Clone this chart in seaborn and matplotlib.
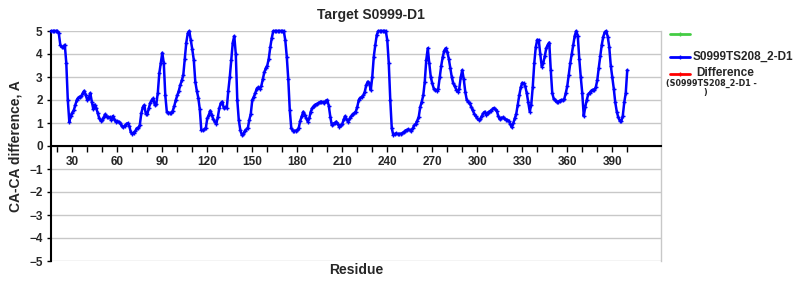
import matplotlib
matplotlib.use('Agg')
import matplotlib.pyplot as plt
import seaborn as sns
import pandas as pd
from matplotlib.lines import Line2D
from matplotlib.ticker import FixedLocator

title = "Target S0999-D1"
model_name = "S0999TS208_2-D1"
y_label = "CA-CA difference, A"
x_label = "Residue"
x_tick_labels = list(range(30, 391, 30))
x_minor_ticks = list(range(20, 401, 10))
y_ticks = list(range(-5, 6))

residues = list(range(16, 401))
values = [
    5.0, 5.0, 5.0, 5.0, 5.0, 4.9, 4.4, 4.3, 4.3, 4.4,            # 16-25
    3.6, 2.0, 1.06, 1.3, 1.45, 1.56, 1.78, 2.0, 2.1, 2.15,       # 26-35
    2.17, 2.3, 2.4, 2.2, 2.0, 2.1, 2.3, 1.93, 1.6, 1.8,          # 36-45
    1.64, 1.42, 1.2, 1.1, 1.13, 1.25, 1.38, 1.28, 1.26, 1.25,    # 46-55
    1.13, 1.3, 1.16, 1.06, 1.08, 1.05, 0.99, 0.87, 0.81, 0.88,   # 56-65
    0.95, 0.99, 0.87, 0.6, 0.52, 0.58, 0.65, 0.77, 0.77, 0.91,   # 66-75
    1.42, 1.68, 1.78, 1.4, 1.38, 1.64, 1.88, 2.0, 2.07, 1.78,    # 76-85
    1.83, 2.3, 3.16, 3.6, 4.05, 3.6, 2.2, 1.5, 1.45, 1.44,       # 86-95
    1.42, 1.54, 1.74, 2.0, 2.2, 2.4, 2.65, 2.85, 3.09, 3.8,      # 96-105
    4.5, 4.9, 5.0, 4.6, 4.2, 3.74, 2.8, 2.4, 2.1, 1.6,           # 106-115
    0.7, 0.68, 0.72, 0.77, 1.2, 1.35, 1.54, 1.35, 1.16, 1.06,    # 116-125
    0.96, 1.25, 1.64, 1.86, 1.93, 1.64, 1.68, 1.65, 2.4, 3.0,    # 126-135
    3.74, 4.5, 4.78, 4.0, 2.0, 1.13, 0.7, 0.48, 0.52, 0.65,      # 136-145
    0.72, 0.77, 1.13, 1.4, 2.0, 2.14, 2.3, 2.5, 2.55, 2.5,       # 146-155
    2.6, 2.9, 3.2, 3.38, 3.5, 3.8, 4.3, 4.7, 5.0, 5.0,           # 156-165
    5.0, 5.0, 5.0, 5.0, 5.0, 5.0, 4.6, 3.88, 2.9, 1.56,          # 166-175
    0.77, 0.67, 0.65, 0.67, 0.7, 0.8, 1.1, 1.3, 1.49, 1.35,      # 176-185
    1.2, 1.06, 1.2, 1.5, 1.65, 1.74, 1.8, 1.83, 1.86, 1.9,       # 186-195
    1.93, 1.9, 1.88, 1.97, 2.0, 1.75, 1.28, 0.91, 0.97, 1.0,     # 196-205
    1.06, 0.95, 0.84, 0.9, 0.96, 1.16, 1.3, 1.15, 1.06, 1.2,     # 206-215
    1.3, 1.39, 1.42, 1.5, 1.7, 2.0, 2.1, 2.12, 2.2, 2.36,        # 216-225
    2.65, 2.8, 2.72, 2.43, 3.0, 3.88, 4.39, 4.83, 5.0, 5.0,      # 226-235
    5.0, 5.0, 5.0, 5.0, 4.6, 3.6, 2.0, 0.77, 0.48, 0.53,         # 236-245
    0.55, 0.52, 0.52, 0.54, 0.55, 0.6, 0.67, 0.7, 0.72, 0.7,     # 246-255
    0.67, 0.77, 0.9, 0.96, 1.1, 1.28, 1.7, 1.93, 2.2, 2.8,       # 256-265
    3.74, 4.25, 3.6, 3.0, 2.72, 2.5, 2.45, 2.4, 2.5, 3.0,        # 266-275
    3.5, 3.88, 4.15, 4.25, 4.1, 3.8, 3.4, 3.0, 2.72, 2.6,        # 276-285
    2.45, 2.36, 2.5, 3.0, 3.3, 2.9, 2.36, 2.0, 1.93, 1.85,       # 286-295
    1.7, 1.56, 1.4, 1.3, 1.2, 1.13, 1.18, 1.3, 1.42, 1.49,       # 296-305
    1.35, 1.45, 1.5, 1.54, 1.59, 1.65, 1.6, 1.54, 1.3, 1.16,     # 306-315
    1.22, 1.24, 1.2, 1.15, 1.13, 1.1, 0.95, 0.81, 0.99, 1.2,     # 316-325
    1.4, 1.8, 2.2, 2.55, 2.75, 2.72, 2.6, 2.3, 1.9, 1.49,        # 326-335
    1.8, 2.58, 3.6, 4.3, 4.62, 4.6, 4.0, 3.45, 3.6, 3.9,         # 336-345
    4.25, 4.4, 4.5, 3.3, 2.3, 2.05, 2.0, 1.9, 1.93, 1.97,        # 346-355
    2.0, 2.0, 2.04, 2.3, 2.6, 3.1, 3.6, 4.0, 4.4, 4.8,           # 356-365
    5.0, 4.8, 3.8, 3.0, 2.3, 1.3, 1.7, 2.0, 2.25, 2.32,          # 366-375
    2.4, 2.45, 2.43, 2.55, 2.85, 3.4, 3.9, 4.4, 4.75, 4.95,      # 376-385
    5.0, 4.75, 4.3, 3.5, 3.0, 2.5, 1.9, 1.5, 1.25, 1.1,          # 386-395
    1.07, 1.3, 1.9, 2.3, 3.3,                                    # 396-400
]

sns.set_theme(style='white')
plt.rcParams['font.family'] = ['Liberation Sans', 'DejaVu Sans']
plt.rcParams['font.weight'] = 'bold'
plt.rcParams['axes.unicode_minus'] = True

df = pd.DataFrame({'residue': residues, 'value': values})

W, H = 800, 300
fig = plt.figure(figsize=(8, 3), dpi=100)
fig.patch.set_facecolor('white')
ax = fig.add_axes([51 / W, 1 - 261 / H, 610 / W, 230 / H])
ax.set_facecolor('white')

sns.lineplot(data=df, x='residue', y='value', ax=ax, color='#0000FF',
             linewidth=1.8, marker='+', markersize=3.5, markeredgewidth=1,
             markeredgecolor='#0000FF', clip_on=False, zorder=5)

ax.set_xlim(15.8, 422.5)
ax.set_ylim(-5, 5)
ax.set_yticks(y_ticks)
ax.yaxis.grid(True, color='#C8C8C8', linewidth=1)
ax.xaxis.grid(False)
ax.set_axisbelow(True)

ax.xaxis.set_major_locator(FixedLocator(x_tick_labels))
ax.xaxis.set_minor_locator(FixedLocator(x_minor_ticks))

ax.spines['top'].set_visible(False)
ax.spines['right'].set_color('#C8C8C8')
ax.spines['right'].set_linewidth(1)
ax.spines['left'].set_color('black')
ax.spines['left'].set_linewidth(1.5)
ax.spines['bottom'].set_position(('data', 0))
ax.spines['bottom'].set_color('black')
ax.spines['bottom'].set_linewidth(1.5)

ax.tick_params(axis='y', direction='out', length=3, width=1, color='black',
               labelsize=8.5, pad=3, left=True)
ax.tick_params(axis='x', which='both', direction='out', length=4, width=1,
               color='black', labelsize=8.5, pad=3, bottom=True)
for lab in ax.get_xticklabels() + ax.get_yticklabels():
    lab.set_fontweight('bold')

ax.set_xlabel(x_label, fontsize=10, fontweight='bold', va='center')
ax.xaxis.set_label_coords(0.5, (261 - 270) / 230)
ax.set_ylabel(y_label, fontsize=10, fontweight='bold', va='center')
ax.yaxis.set_label_coords((16 - 51) / 610, 0.5)

fig.text(371 / W, 1 - 14.5 / H, title, ha='center', va='center',
         fontsize=10, fontweight='bold')

# legend
legend_items = [('#44CC44', ''), ('#0000FF', model_name), ('#FF0000', 'Difference')]
legend_y = [34, 57, 73.5]
legend_x = [0, 693, 696]
for (col, lab), yy, xx in zip(legend_items, legend_y, legend_x):
    ln = Line2D([670 / W, 680 / W, 690 / W], [1 - yy / H] * 3, color=col, lw=2,
                marker='+', markersize=3, markevery=[1], transform=fig.transFigure)
    fig.add_artist(ln)
    if lab:
        fig.text(xx / W, 1 - yy / H, lab, ha='left', va='center',
                 fontsize=8.5, fontweight='bold')
fig.text(666 / W, 1 - 83 / H, '(' + model_name + ' -', ha='left', va='center',
         fontsize=5.8, fontweight='bold', family=['DejaVu Sans'])
fig.text(703 / W, 1 - 92 / H, ')', ha='left', va='center',
         fontsize=5.8, fontweight='bold', family=['DejaVu Sans'])

fig.savefig('out.png', dpi=100, facecolor='white')
